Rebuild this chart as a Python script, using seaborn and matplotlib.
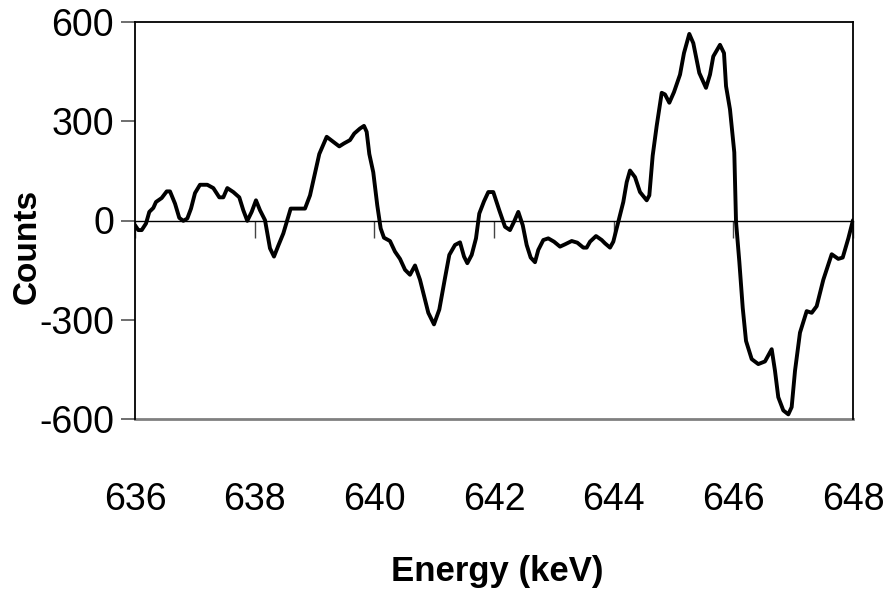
import matplotlib
matplotlib.use("Agg")
import matplotlib.pyplot as plt
import seaborn as sns
import pandas as pd
from matplotlib import font_manager

energy_kev = [
    636.000, 636.055, 636.112, 636.184, 636.239, 636.306, 636.351, 636.446, 636.530, 636.585,
    636.669, 636.740, 636.807, 636.874, 636.936, 637.003, 637.086, 637.208, 637.309, 637.409,
    637.476, 637.543, 637.643, 637.743, 637.810, 637.877, 637.950, 638.022, 638.089, 638.173,
    638.256, 638.323, 638.395, 638.479, 638.602, 638.703, 638.841, 638.925, 639.037, 639.080,
    639.204, 639.314, 639.414, 639.493, 639.593, 639.665, 639.760, 639.827, 639.872, 639.916,
    639.982, 640.049, 640.106, 640.161, 640.262, 640.345, 640.429, 640.513, 640.596, 640.680,
    640.763, 640.902, 640.997, 641.086, 641.181, 641.253, 641.348, 641.432, 641.499, 641.554,
    641.627, 641.699, 641.754, 641.833, 641.905, 641.988, 642.088, 642.184, 642.267, 642.334,
    642.406, 642.480, 642.546, 642.613, 642.685, 642.740, 642.824, 642.907, 643.003, 643.103,
    643.187, 643.299, 643.392, 643.493, 643.549, 643.605, 643.705, 643.800, 643.855, 643.939,
    643.994, 644.078, 644.161, 644.218, 644.273, 644.357, 644.440, 644.552, 644.596, 644.652,
    644.719, 644.803, 644.858, 644.930, 645.008, 645.109, 645.175, 645.264, 645.331, 645.431,
    645.543, 645.610, 645.665, 645.777, 645.844, 645.878, 645.944, 646.016, 646.045, 646.100,
    646.157, 646.212, 646.307, 646.417, 646.529, 646.641, 646.696, 646.751, 646.835, 646.919,
    646.975, 647.031, 647.114, 647.226, 647.310, 647.393, 647.504, 647.644, 647.754, 647.828,
    647.922, 648.000,
]
counts = [
    -14, -29, -29, -9, 26, 38, 56, 68, 88, 88,
    51, 8, -1, 6, 36, 83, 108, 108, 98, 70,
    70, 98, 86, 70, 31, -1, 26, 61, 31, 1,
    -84, -109, -76, -39, 36, 36, 36, 76, 166, 201,
    253, 238, 224, 233, 243, 263, 278, 286, 268, 201,
    146, 46, -24, -52, -62, -94, -116, -149, -164, -136,
    -179, -279, -314, -269, -174, -104, -74, -66, -109, -129,
    -104, -54, 21, 58, 86, 86, 31, -19, -29, -4,
    26, -14, -74, -112, -126, -89, -59, -54, -64, -79,
    -72, -62, -67, -82, -82, -64, -47, -59, -69, -82,
    -64, -4, 56, 116, 151, 131, 86, 61, 76, 196,
    286, 386, 381, 356, 388, 441, 506, 564, 536, 446,
    401, 441, 496, 531, 506, 406, 336, 206, -4, -124,
    -264, -364, -419, -434, -426, -389, -454, -534, -574, -586,
    -564, -454, -339, -274, -279, -259, -179, -102, -116, -112,
    -54, 1,
]
x_ticks = [636, 638, 640, 642, 644, 646, 648]
y_ticks = [-600, -300, 0, 300, 600]
x_label = "Energy (keV)"
y_label = "Counts"

sns.set_style("white")
avail = {f.name for f in font_manager.fontManager.ttflist}
narrow = "Liberation Sans Narrow" if "Liberation Sans Narrow" in avail else "Liberation Sans"
plt.rcParams["font.family"] = [narrow, "DejaVu Sans"]
plt.rcParams["text.color"] = "black"

fig = plt.figure(figsize=(8.88, 5.94), dpi=100)
ax = fig.add_axes([135 / 888, 1 - 419 / 594, 718 / 888, 397 / 594])

df = pd.DataFrame({"energy": energy_kev, "counts": counts})
sns.lineplot(data=df, x="energy", y="counts", ax=ax, color="black",
             linewidth=2.8, sort=False, estimator=None)

ax.set_xlim(636, 648)
ax.set_ylim(-600, 600)

# zero-crossing x axis with tick marks
ax.spines["bottom"].set_position(("data", 0))
ax.spines["bottom"].set_color("black")
ax.spines["bottom"].set_linewidth(1.0)
ax.set_xticks(x_ticks)
ax.tick_params(axis="x", which="both", bottom=True, direction="out", length=12,
               width=1.0, color="#444444", labelbottom=False)

# plot-area border
for side in ["top", "right", "left"]:
    ax.spines[side].set_visible(True)
    ax.spines[side].set_color("black")
    ax.spines[side].set_linewidth(1.3)

ax.set_yticks(y_ticks)
ax.set_yticklabels([str(v) for v in y_ticks])
ax.tick_params(axis="y", left=True, direction="out", length=10, width=1.2,
               color="#555555", labelsize=27, pad=5, labelcolor="black")

sec = ax.secondary_xaxis(0.0)
sec.set_xticks(x_ticks)
sec.set_xticklabels([str(v) for v in x_ticks])
sec.spines["bottom"].set_color("#808080")
sec.spines["bottom"].set_linewidth(2.0)
sec.tick_params(axis="x", length=0, labelsize=27, pad=45, labelcolor="black")
sec.set_xlabel("")

ax.set_xlabel("")
ax.set_ylabel("")
fig.text(497 / 888, 1 - 572 / 594, x_label, ha="center", va="center",
         fontsize=25, fontweight="bold", color="black")
fig.text(27 / 888, 1 - 246 / 594, y_label, ha="center", va="center",
         rotation=90, fontsize=24, fontweight="bold", color="black")

ax.grid(False)
fig.savefig("out.png", dpi=100)
